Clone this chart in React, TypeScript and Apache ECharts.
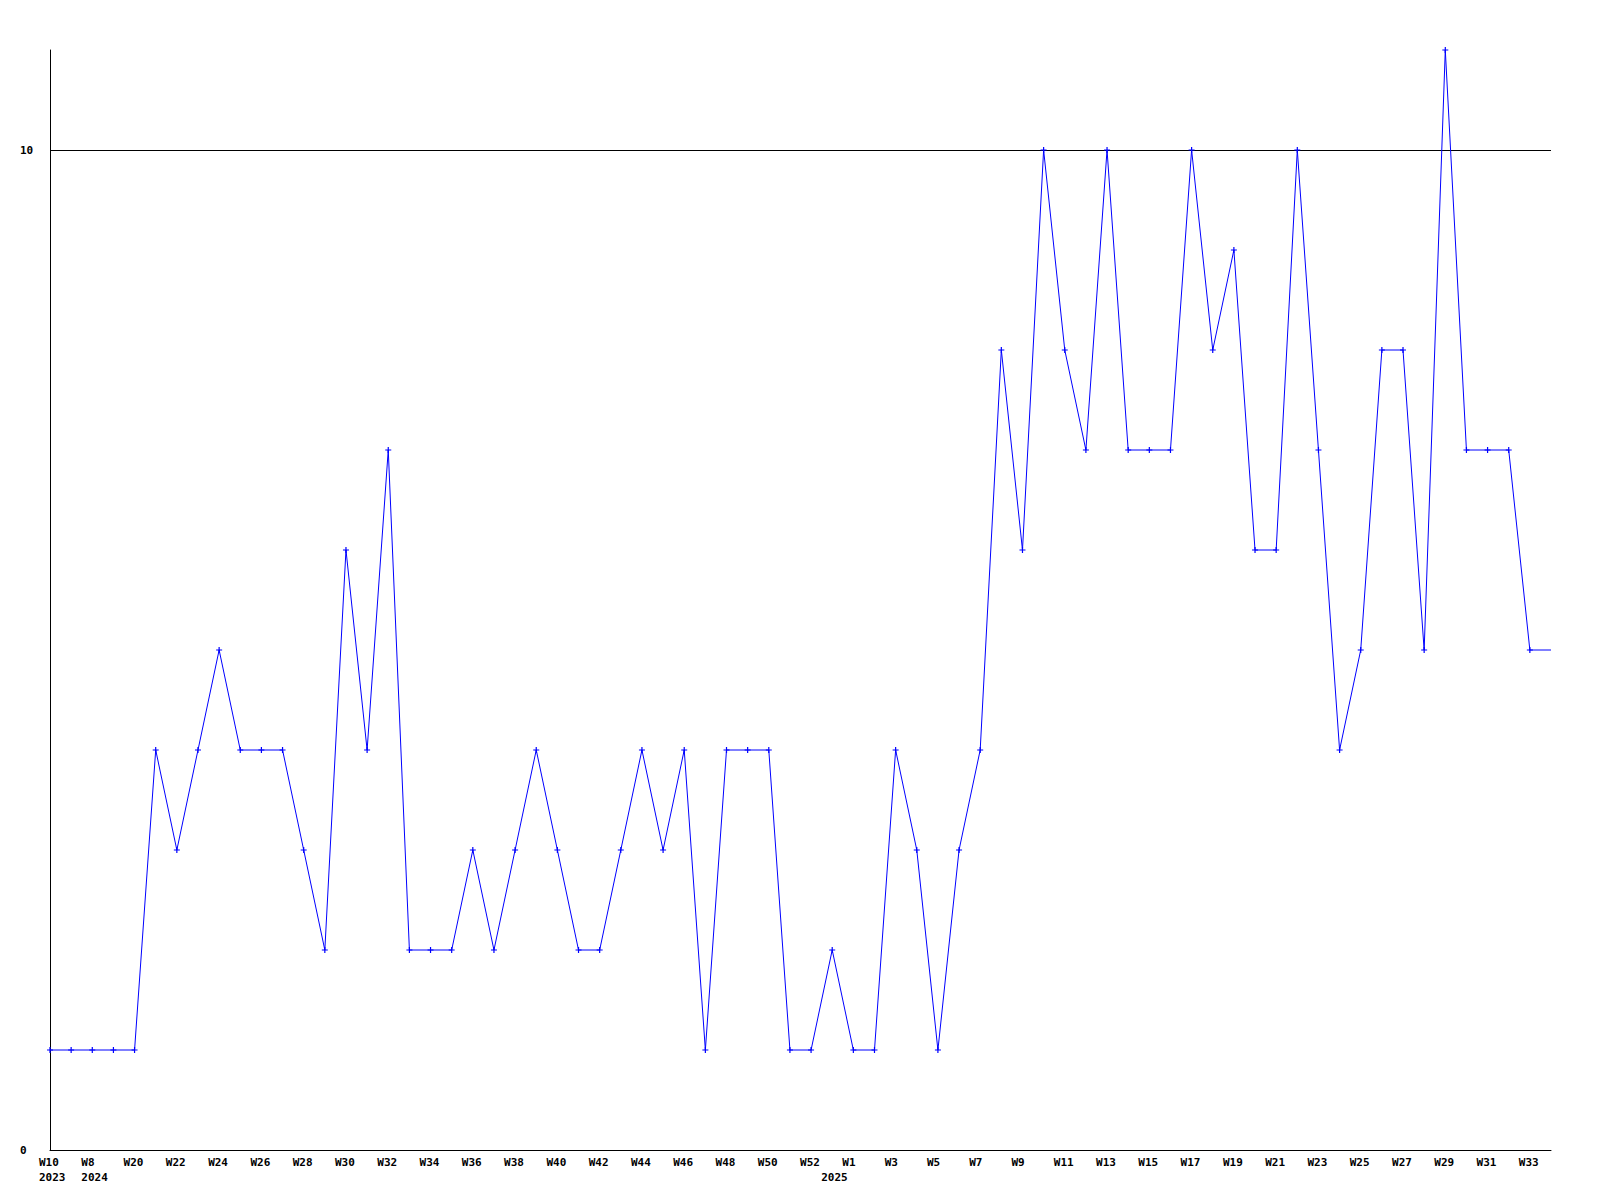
import React, { useEffect, useRef } from "react";
import * as echarts from "echarts";

const weeks: string[] = [
  "W10", "W11", "W8", "W19",
  "W20", "W21", "W22", "W23", "W24", "W25", "W26", "W27", "W28", "W29", "W30", "W31",
  "W32", "W33", "W34", "W35", "W36", "W37", "W38", "W39", "W40", "W41", "W42", "W43",
  "W44", "W45", "W46", "W47", "W48", "W49", "W50", "W51", "W52",
  "W0",
  "W1", "W2", "W3", "W4", "W5", "W6", "W7", "W8", "W9", "W10", "W11", "W12", "W13",
  "W14", "W15", "W16", "W17", "W18", "W19", "W20", "W21", "W22", "W23", "W24", "W25",
  "W26", "W27", "W28", "W29", "W30", "W31", "W32", "W33", "W34",
];

const yearStarts: Record<number, string> = { 0: "2023", 2: "2024", 37: "2025" };

const values: number[] = [
  1, 1, 1, 1, 1, 4, 3, 4, 5, 4, 4, 4, 3, 2, 6, 4, 7, 2, 2, 2, 3, 2, 3, 4, 3, 2, 2, 3,
  4, 3, 4, 1, 4, 4, 4, 1, 1, 2, 1, 1, 4, 3, 1, 3, 4, 8, 6, 10, 8, 7, 10, 7, 7, 7, 10,
  8, 9, 6, 6, 10, 7, 4, 5, 8, 8, 5, 11, 7, 7, 7, 5, 5,
];

const yTicks = { min: 0, max: 11, interval: 10 };

const FONT = "'DejaVu Sans Mono', 'Liberation Mono', monospace";

export default function App() {
  const ref = useRef<HTMLDivElement>(null);
  useEffect(() => {
    if (!ref.current) return;
    const chart = echarts.init(ref.current, null, { renderer: "svg" });
    const lastIdx = values.length - 1;
    chart.setOption({
      animation: false,
      backgroundColor: "#ffffff",
      grid: { left: 50, right: 49, top: 50, bottom: 50, containLabel: false },
      xAxis: {
        type: "category",
        boundaryGap: false,
        data: weeks,
        axisLine: { show: true, lineStyle: { color: "#000", width: 1 } },
        axisTick: { show: false },
        splitLine: { show: false },
        axisLabel: {
          interval: (index: number) =>
            (index % 2 === 0 && index < lastIdx) || yearStarts[index] !== undefined,
          margin: 5,
          align: "center",
          formatter: (value: string, index: number) => {
            const wk = index % 2 === 0 ? value : " ";
            const yr = yearStarts[index];
            return yr ? `{a|${wk}}\n{a|${yr}}` : `{a|${wk}}`;
          },
          rich: {
            a: {
              width: 22,
              align: "left",
              lineHeight: 15,
              fontFamily: FONT,
              fontWeight: "bold",
              fontSize: 11,
              color: "#000",
            },
          },
        },
      },
      yAxis: {
        type: "value",
        min: yTicks.min,
        max: yTicks.max,
        interval: yTicks.interval,
        axisLine: { show: true, lineStyle: { color: "#000", width: 1 } },
        axisTick: { show: false },
        axisLabel: {
          showMaxLabel: false,
          align: "left",
          margin: 30,
          fontFamily: FONT,
          fontWeight: "bold",
          fontSize: 11,
          color: "#000",
        },
        splitLine: {
          show: true,
          showMinLine: false,
          showMaxLine: false,
          lineStyle: { color: "#000", width: 1 },
        },
      },
      series: [
        {
          type: "line",
          clip: false,
          data: values.map((v, i) => (i === lastIdx ? { value: v, symbol: "none" } : v)),
          symbol: "path://M2,0 L3,0 L3,2 L5,2 L5,3 L3,3 L3,5 L2,5 L2,3 L0,3 L0,2 L2,2 Z",
          symbolSize: 6,
          showAllSymbol: true,
          lineStyle: { color: "#0000ff", width: 1 },
          itemStyle: { color: "#0000ff" },
        },
      ],
    });
    return () => chart.dispose();
  }, []);
  return (
    <div
      ref={ref}
      style={{ position: "fixed", left: 0, top: 0, width: 1600, height: 1200 }}
    />
  );
}
